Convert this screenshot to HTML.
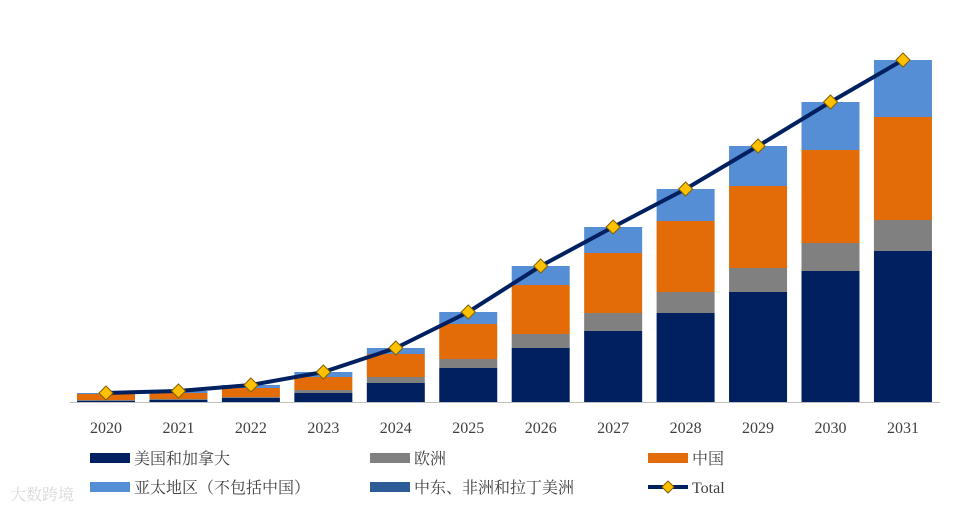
<!DOCTYPE html>
<html><head><meta charset="utf-8"><style>
body{margin:0;background:#fff;}
svg text{font-family:"Liberation Serif","Noto Serif CJK SC",serif;}
</style></head><body>
<svg id="chart" width="974" height="514" xmlns="http://www.w3.org/2000/svg">
<g id="bars"></g>
<line x1="70" y1="402.5" x2="940" y2="402.5" stroke="#bfbfbf" stroke-width="1"/>
<g id="xticks"></g>
<g id="line"></g>
<g id="legend"></g>
<text x="10" y="500" font-size="16" fill="#d8d8d8" font-family="Liberation Sans,Noto Sans CJK SC,sans-serif">大数跨境</text>
</svg>
<script>
const years=["2020","2021","2022","2023","2024","2025","2026","2027","2028","2029","2030","2031"];
const usCanada=[1,2,4,9,19,34,54,71,89,110,131,151];
const europe=[1,1,1,3,6,9,14,18,21,24,28,31];
const china=[6,6,9,13,23,35,49,60,71,82,93,103];
const apac=[1,2,3,5,6,12,19,26,32,40,48,57];
const meaLatam=[0,0,0,0,0,0,0,0,0,0,0,0];
const seriesNames=["美国和加拿大","欧洲","中国","亚太地区（不包括中国）","中东、非洲和拉丁美洲"];
const colors=["#002060","#808080","#e36c09","#558ed5","#2e5c99"];
const series=[usCanada,europe,china,meaLatam,apac];
const seriesColors=[colors[0],colors[1],colors[2],colors[4],colors[3]];
const ns="http://www.w3.org/2000/svg";
const baseY=402, x0=106, step=72.45, bw=58;
function xPos(i){return x0+i*step;}
function yPos(v){return baseY-v;}
const gb=document.getElementById('bars');
const totals=years.map((_,i)=>series.reduce((s,a)=>s+a[i],0));
years.forEach((y,i)=>{
  let acc=0;
  series.forEach((arr,k)=>{
    const v=arr[i]; if(v<=0) return;
    const r=document.createElementNS(ns,'rect');
    r.setAttribute('x',xPos(i)-bw/2);r.setAttribute('y',yPos(acc+v));
    r.setAttribute('width',bw);r.setAttribute('height',v);
    r.setAttribute('fill',seriesColors[k]);
    
    
    gb.appendChild(r); acc+=v;
  });
  const t=document.createElementNS(ns,'text');
  t.setAttribute('x',xPos(i));t.setAttribute('y',433);t.setAttribute('text-anchor','middle');
  t.setAttribute('font-size','16');t.setAttribute('fill','#404040');t.textContent=y;
  
  
  document.getElementById('xticks').appendChild(t);
});
const gl=document.getElementById('line');
const p=document.createElementNS(ns,'polyline');
p.setAttribute('points',totals.map((v,i)=>xPos(i)+','+yPos(v)).join(' '));
p.setAttribute('fill','none');p.setAttribute('stroke','#002060');p.setAttribute('stroke-width','4');


gl.appendChild(p);
totals.forEach((v,i)=>{
  const d=document.createElementNS(ns,'path');
  const cx=xPos(i),cy=yPos(v);
  d.setAttribute('d',`M${cx} ${cy-7}L${cx+7} ${cy}L${cx} ${cy+7}L${cx-7} ${cy}Z`);
  d.setAttribute('fill','#ffc000');d.setAttribute('stroke','#7f6000');d.setAttribute('stroke-width','1');
  
  
  gl.appendChild(d);
});
const lg=document.getElementById('legend');
const items=[[90,458,colors[0],seriesNames[0]],[370,458,colors[1],seriesNames[1]],[648,458,colors[2],seriesNames[2]],[90,487,colors[3],seriesNames[3]],[370,487,colors[4],seriesNames[4]]];
items.forEach((it,k)=>{
  const r=document.createElementNS(ns,'rect');
  r.setAttribute('x',it[0]);r.setAttribute('y',it[1]-5);r.setAttribute('width',40);r.setAttribute('height',10);r.setAttribute('fill',it[2]);
  
  
  lg.appendChild(r);
  const t=document.createElementNS(ns,'text');
  t.setAttribute('x',it[0]+44);t.setAttribute('y',it[1]+6);t.setAttribute('font-size','16');t.setAttribute('fill','#404040');t.textContent=it[3];
  
  
  lg.appendChild(t);
});
const ll=document.createElementNS(ns,'line');
ll.setAttribute('x1',648);ll.setAttribute('x2',688);ll.setAttribute('y1',487);ll.setAttribute('y2',487);ll.setAttribute('stroke','#002060');ll.setAttribute('stroke-width','4');


lg.appendChild(ll);
const ld=document.createElementNS(ns,'path');
ld.setAttribute('d','M668 481L674 487L668 493L662 487Z');ld.setAttribute('fill','#ffc000');ld.setAttribute('stroke','#7f6000');


lg.appendChild(ld);
const lt=document.createElementNS(ns,'text');
lt.setAttribute('x',692);lt.setAttribute('y',493);lt.setAttribute('font-size','16');lt.setAttribute('fill','#404040');lt.textContent='Total';


lg.appendChild(lt);
</script>
</body></html>
